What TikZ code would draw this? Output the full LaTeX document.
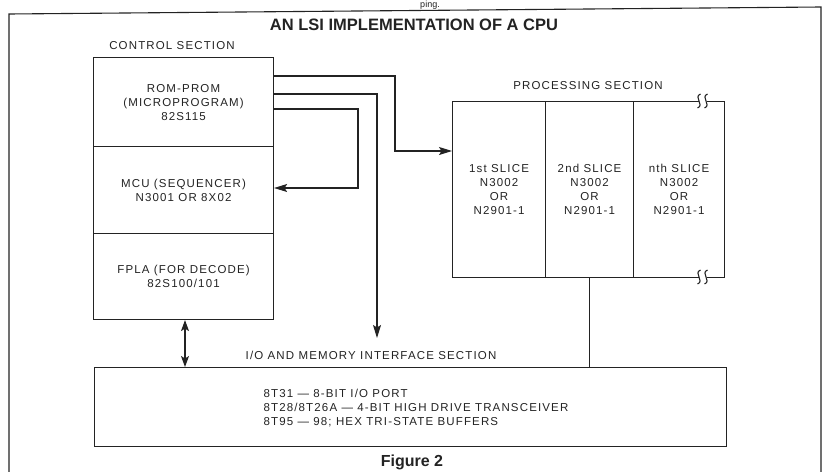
\documentclass[tikz,border=0pt]{standalone}
\usepackage{fontspec}
\setmainfont{Liberation Sans}
\newfontfamily\bodyfont{Liberation Sans}[LetterSpace=10]
\usetikzlibrary{arrows.meta}
\definecolor{ink}{RGB}{35,35,35}
\begin{document}
\begin{tikzpicture}[x=1pt,y=-1pt,
  line width=1.1pt,
  box/.style={draw=ink, line width=1.1pt, inner sep=0pt, align=center, text=ink,
    font=\bodyfont\fontsize{11.5}{14}\selectfont},
  txt/.style={font=\bodyfont\fontsize{11.5}{14}\selectfont, text=ink, align=center, inner sep=0pt},
  arr/.style={draw=ink, line width=1.1pt, -{Stealth[length=13pt,width=8pt,inset=2.5pt]}},
  brk/.style={draw=ink, line width=1.1pt}
]
\useasboundingbox (0,0) rectangle (826,471);

% outer frame
\draw[ink] (9,480) -- (9,14) -- (821,7) -- (821,480);

% texts
\node[font=\fontsize{9}{10}\selectfont, text=ink, anchor=north, inner sep=0.5pt] (ping) at (430,0) {ping.};
\node[font=\bfseries\fontsize{16.5}{20}\selectfont, text=ink] (title) at (414,25) {AN LSI IMPLEMENTATION OF A CPU};
\node[txt] (ctrl) at (172,46) {CONTROL SECTION};
\node[txt] (proc) at (588,86) {PROCESSING SECTION};
\node[txt] (iolab) at (371,355) {I/O AND MEMORY INTERFACE SECTION};
\node[font=\bfseries\fontsize{16}{18}\selectfont, text=ink] (fig) at (412,462) {Figure 2};

% control section
\node[box, minimum width=180pt, minimum height=89pt, anchor=north west] (rom) at (93,57) {ROM-PROM\\(MICROPROGRAM)\\82S115};
\node[box, minimum width=180pt, minimum height=87pt, anchor=north west] (mcu) at (93,146) {MCU (SEQUENCER)\\N3001 OR 8X02};
\node[box, minimum width=180pt, minimum height=86pt, anchor=north west] (fpla) at (93,233) {FPLA (FOR DECODE)\\82S100/101};

% processing section
\node[box, minimum width=93pt, minimum height=176pt, anchor=north west] (s1) at (452,101) {1st SLICE\\N3002\\OR\\N2901-1};
\node[box, minimum width=88pt, minimum height=176pt, anchor=north west] (s2) at (545,101) {2nd SLICE\\N3002\\OR\\N2901-1};
\node[box, minimum width=91pt, minimum height=176pt, anchor=north west] (s3) at (633,101) {nth SLICE\\N3002\\OR\\N2901-1};

% I/O section
\node[box, minimum width=632pt, minimum height=79pt, anchor=north west] (io) at (94,367) {};
\node[txt, align=left, anchor=west] (iotxt) at (263,408) {8T31 — 8-BIT I/O PORT\\8T28/8T26A — 4-BIT HIGH DRIVE TRANSCEIVER\\8T95 — 98; HEX TRI-STATE BUFFERS};

% break marks
\fill[white] (699,98.5) rectangle (707,103.5);
\fill[white] (699,274.5) rectangle (707,279.5);
\foreach \bx in {699,706} {
  \draw[brk] (\bx+1.5,94) .. controls (\bx-6,97) and (\bx+6,105) .. (\bx-1.5,108);
  \draw[brk] (\bx+1.5,270) .. controls (\bx-6,273) and (\bx+6,281) .. (\bx-1.5,284);
}

% connector coordinates
\coordinate (y76) at (0,76);
\coordinate (y94) at (0,94);
\coordinate (y109) at (0,109);
\coordinate (y151) at (0,151);
\coordinate (y188) at (0,188);
\coordinate (x185) at (185,0);
\coordinate (ioin) at (377,338);

% connectors
\draw[arr] (rom.east |- y76) -- (395,76) -- (395,151) -- (s1.west |- y151);
\draw[arr] (rom.east |- y94) -- (377,94) -- (ioin);
\draw[arr] (rom.east |- y109) -- (358,109) -- (358,188) -- (mcu.east |- y188);
\draw[draw=ink, line width=1.1pt, {Stealth[length=11pt,width=8pt,inset=2.5pt]}-{Stealth[length=11pt,width=8pt,inset=2.5pt]}] (fpla.south -| x185) -- (io.north -| x185);
\draw[ink] (s2.south) -- (s2.south |- io.north);
\end{tikzpicture}
\end{document}
